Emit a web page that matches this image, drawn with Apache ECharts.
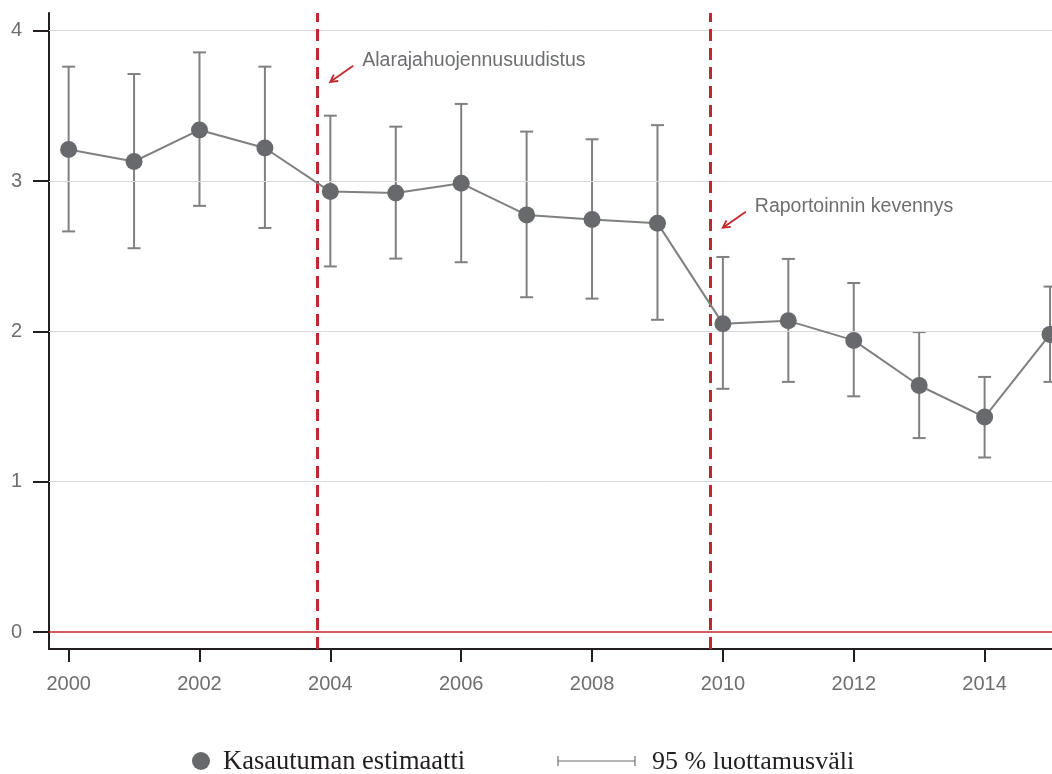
<!DOCTYPE html>
<html>
<head>
<meta charset="utf-8">
<script src="https://cdn.jsdelivr.net/npm/echarts@6/dist/echarts.min.js"></script>
<style>
  html, body { margin: 0; padding: 0; background: #ffffff; }
  #chart { width: 1052px; height: 774px; }
</style>
</head>
<body>
<div id="chart"></div>
<script>
// Yearly estimates with 95 % confidence bounds
const years    = [2000, 2001, 2002, 2003, 2004, 2005, 2006, 2007, 2008, 2009, 2010, 2011, 2012, 2013, 2014, 2015];
const estimate = [3.21, 3.13, 3.34, 3.22, 2.93, 2.92, 2.985, 2.775, 2.745, 2.72, 2.05, 2.07, 1.94, 1.64, 1.43, 1.98];
const lowerCI  = [2.665, 2.553, 2.835, 2.688, 2.432, 2.484, 2.46, 2.227, 2.218, 2.077, 1.618, 1.664, 1.568, 1.29, 1.161, 1.664];
const upperCI  = [3.761, 3.712, 3.856, 3.761, 3.435, 3.362, 3.513, 3.329, 3.278, 3.372, 2.495, 2.482, 2.322, 1.995, 1.697, 2.298];

// Axis ticks
const xTickYears = [2000, 2002, 2004, 2006, 2008, 2010, 2012, 2014];
const yTickValues = [0, 1, 2, 3, 4];
const gridValues = [1, 2, 3, 4];

// Reform dates and their annotations
const reformYears = [2003.8, 2009.8];
const reformLabels = ['Alarajahuojennusuudistus', 'Raportoinnin kevennys'];
const reformArrowLevel = [3.66, 2.69];

const legendLabels = ['Kasautuman estimaatti', '95 % luottamusväli'];

const SANS = '"Liberation Sans", Arial, sans-serif';
const SERIF = '"Liberation Serif", "Times New Roman", serif';
const AXIS_INK = '#231f20';
const LABEL_GREY = '#6d6e71';
const RED = '#c1272d';
const LINE_GREY = '#808080';
const DOT_GREY = '#68696d';

const chart = echarts.init(document.getElementById('chart'), null, { renderer: 'canvas' });

const pointData = years.map((y, i) => [y, estimate[i]]);
const ciData = years.map((y, i) => [y, lowerCI[i], upperCI[i]]);

function errorBar(params, api) {
  const x = api.value(0);
  const lo = api.coord([x, api.value(1)]);
  const hi = api.coord([x, api.value(2)]);
  const cap = 6.5;
  const style = { stroke: LINE_GREY, lineWidth: 2, fill: null };
  return {
    type: 'group',
    children: [
      { type: 'line', shape: { x1: lo[0], y1: lo[1], x2: hi[0], y2: hi[1] }, style: style },
      { type: 'line', shape: { x1: lo[0] - cap, y1: lo[1], x2: lo[0] + cap, y2: lo[1] }, style: style },
      { type: 'line', shape: { x1: hi[0] - cap, y1: hi[1], x2: hi[0] + cap, y2: hi[1] }, style: style }
    ]
  };
}

const option = {
  animation: false,
  backgroundColor: '#ffffff',
  grid: { left: 49, right: 0, top: 13, bottom: 125, containLabel: false },
  xAxis: {
    type: 'value',
    min: 1999.7,
    max: 2015.03,
    splitLine: { show: false },
    axisLine: { show: true, onZero: false, lineStyle: { color: AXIS_INK, width: 2 } },
    axisTick: { show: true, customValues: xTickYears, length: 13, lineStyle: { color: AXIS_INK, width: 2 } },
    axisLabel: {
      customValues: xTickYears, margin: 25, color: LABEL_GREY,
      fontFamily: SANS, fontSize: 20, formatter: v => String(v)
    }
  },
  yAxis: {
    type: 'value',
    min: -0.113,
    max: 4.118,
    splitLine: { show: false },
    axisLine: { show: true, onZero: false, lineStyle: { color: AXIS_INK, width: 2 } },
    axisTick: { show: true, customValues: yTickValues, length: 16, lineStyle: { color: AXIS_INK, width: 2 } },
    axisLabel: {
      customValues: yTickValues, margin: 27, color: LABEL_GREY,
      fontFamily: SANS, fontSize: 20, formatter: v => String(v)
    }
  },
  series: [
    {
      // horizontal guides
      type: 'line', data: [], silent: true, z: 1,
      markLine: {
        silent: true, symbol: 'none', label: { show: false },
        lineStyle: { color: '#d9d9d9', width: 1, type: 'solid' },
        data: gridValues.map(v => ({ yAxis: v }))
      }
    },
    {
      // zero reference
      type: 'line', data: [], silent: true, z: 2,
      markLine: {
        silent: true, symbol: 'none', label: { show: false },
        lineStyle: { color: RED, width: 1.6, type: 'solid' },
        data: [{ yAxis: 0 }]
      }
    },
    {
      // reform dates
      type: 'line', data: [], silent: true, z: 3,
      markLine: {
        silent: true, symbol: 'none', label: { show: false },
        lineStyle: { color: RED, width: 3, type: [12, 7] },
        data: reformYears.map(v => ({ xAxis: v }))
      }
    },
    {
      type: 'custom',
      name: legendLabels[1],
      renderItem: errorBar,
      encode: { x: 0, y: [1, 2] },
      data: ciData,
      z: 4
    },
    {
      type: 'line',
      name: legendLabels[0],
      data: pointData,
      symbol: 'circle',
      symbolSize: 17,
      showAllSymbol: true,
      itemStyle: { color: DOT_GREY },
      lineStyle: { color: LINE_GREY, width: 2 },
      z: 5
    }
  ]
};

chart.setOption(option);

// Annotation arrows and texts placed from the reform positions
const graphics = [];
reformYears.forEach((yr, i) => {
  const p = chart.convertToPixel({ gridIndex: 0 }, [yr, reformArrowLevel[i]]);
  const hx = p[0] + 13, hy = p[1];
  const tx = hx + 23, ty = hy - 16;
  const dx = hx - tx, dy = hy - ty;
  const len = Math.sqrt(dx * dx + dy * dy);
  const ux = dx / len, uy = dy / len;
  const arm = 8, ang = 0.5;
  const a1 = [hx - arm * (ux * Math.cos(ang) - uy * Math.sin(ang)), hy - arm * (uy * Math.cos(ang) + ux * Math.sin(ang))];
  const a2 = [hx - arm * (ux * Math.cos(-ang) - uy * Math.sin(-ang)), hy - arm * (uy * Math.cos(-ang) + ux * Math.sin(-ang))];
  const st = { stroke: RED, lineWidth: 1.8, fill: null };
  graphics.push({ type: 'line', shape: { x1: tx, y1: ty, x2: hx, y2: hy }, style: st, z: 10 });
  graphics.push({ type: 'polyline', shape: { points: [a1, [hx, hy], a2] }, style: st, z: 10 });
  graphics.push({
    type: 'text', x: tx + 9, y: ty - 5, z: 10,
    style: { text: reformLabels[i], fill: LABEL_GREY, font: '19.5px ' + SANS, textAlign: 'left', textVerticalAlign: 'middle' }
  });
});

// Legend row
const legendY = 761;
graphics.push({ type: 'circle', shape: { cx: 201, cy: legendY, r: 9 }, style: { fill: DOT_GREY }, z: 10 });
graphics.push({
  type: 'text', x: 223, y: legendY + 1, z: 10,
  style: { text: legendLabels[0], fill: AXIS_INK, font: '26.5px ' + SERIF, textAlign: 'left', textVerticalAlign: 'middle' }
});
const ciStyle = { stroke: '#707070', lineWidth: 1.2, fill: null };
graphics.push({ type: 'line', shape: { x1: 558, y1: legendY, x2: 635, y2: legendY }, style: ciStyle, z: 10 });
graphics.push({ type: 'line', shape: { x1: 558, y1: legendY - 5, x2: 558, y2: legendY + 5 }, style: ciStyle, z: 10 });
graphics.push({ type: 'line', shape: { x1: 635, y1: legendY - 5, x2: 635, y2: legendY + 5 }, style: ciStyle, z: 10 });
graphics.push({
  type: 'text', x: 652, y: legendY + 1, z: 10,
  style: { text: legendLabels[1], fill: AXIS_INK, font: '26px ' + SERIF, textAlign: 'left', textVerticalAlign: 'middle' }
});

chart.setOption({ graphic: { elements: graphics } });
</script>
</body>
</html>
